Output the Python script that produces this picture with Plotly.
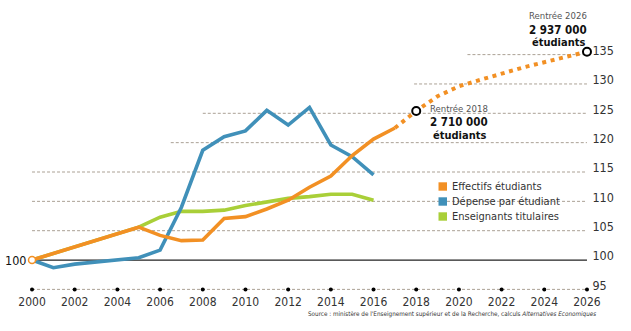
import plotly.graph_objects as go

# ---------------- data ----------------
years_hist = list(range(2000, 2018))
effectifs = [100, 101.1, 102.2, 103.3, 104.4, 105.6, 104.2, 103.3, 103.4, 107.1,
             107.4, 108.7, 110.2, 112.4, 114.3, 117.8, 120.6, 122.5]
years_proj = list(range(2017, 2027))
effectifs_proj = [122.5, 125.4, 127.9, 129.6, 130.7, 131.8, 132.8, 133.7, 134.6, 135.5]
years_16 = list(range(2000, 2017))
depense = [100, 98.7, 99.3, 99.7, 100.0, 100.4, 101.7, 109.0, 118.7, 121.0,
           122.0, 125.5, 123.0, 126.0, 119.6, 117.6, 114.5]
enseignants = [100, 101.1, 102.2, 103.3, 104.4, 105.6, 107.3, 108.3, 108.3, 108.5,
               109.3, 109.9, 110.5, 110.8, 111.2, 111.2, 110.2]
series_names = ["Effectifs étudiants", "Dépense par étudiant", "Enseignants titulaires"]
x_ticks = list(range(2000, 2027, 2))
y_ticks = list(range(95, 140, 5))
callout_years = [2018, 2026]
callout_head = ["Rentrée 2018", "Rentrée 2026"]
callout_value = ["2 710 000", "2 937 000"]
source_text = ("Source : ministère de l'Enseignement supérieur et de la Recherche, "
               "calculs <i>Alternatives Economiques</i>")

# ---------------- style ----------------
ORANGE = "#F29024"
BLUE = "#4090B9"
GREEN = "#A9CF38"
GRID = "#ABA195"
NARROW = "Liberation Sans Narrow, DejaVu Sans Condensed, Arial Narrow, sans-serif"
W, H = 631, 331
ML, MR, MT, MB = 0, 12, 37, 24
XR = [1998.5, 2027.5]
YR = [92, 138]
PW, PH = W - ML - MR, H - MT - MB


def px_x(px):
    return (px - ML) / PW


def px_y(py):
    return (H - MB - py) / PH


fig = go.Figure()

fig.add_trace(go.Scatter(x=years_16, y=enseignants, mode="lines",
                         line=dict(color=GREEN, width=3.6), showlegend=False,
                         name=series_names[2]))
fig.add_trace(go.Scatter(x=years_16, y=depense, mode="lines",
                         line=dict(color=BLUE, width=3.6), showlegend=False,
                         name=series_names[1]))
fig.add_trace(go.Scatter(x=years_hist, y=effectifs, mode="lines",
                         line=dict(color=ORANGE, width=3.6), showlegend=False,
                         name=series_names[0]))
fig.add_trace(go.Scatter(x=years_proj, y=effectifs_proj, mode="lines",
                         line=dict(color=ORANGE, width=4, dash="4px,4.6px"),
                         showlegend=False))
# start point
fig.add_trace(go.Scatter(x=years_hist[:1], y=effectifs[:1], mode="markers",
                         marker=dict(size=7, color="white", line=dict(color=ORANGE, width=1.5)),
                         showlegend=False, cliponaxis=False))
# callout markers
call_y = [effectifs_proj[years_proj.index(y)] for y in callout_years]
fig.add_trace(go.Scatter(x=callout_years, y=call_y, mode="markers",
                         marker=dict(size=8, color="white", line=dict(color="black", width=2)),
                         showlegend=False, cliponaxis=False))
# axis dots
fig.add_trace(go.Scatter(x=x_ticks, y=[y_ticks[0]] * len(x_ticks), mode="markers",
                         marker=dict(size=4, color="black"), showlegend=False,
                         cliponaxis=False, hoverinfo="skip"))

shapes = []
grid_start = {105: 2000, 110: 2000, 115: 2000, 120: 2006.5, 125: 2008, 130: 2017.9, 135: 2020.4}
for lvl, x0 in grid_start.items():
    shapes.append(dict(type="line", xref="x", yref="y", x0=x0, x1=2026, y0=lvl, y1=lvl,
                       line=dict(color=GRID, width=1, dash="3px,2px"), layer="below"))
shapes.append(dict(type="line", xref="x", yref="y", x0=2000, x1=2026, y0=95, y1=95,
                   line=dict(color=GRID, width=1, dash="3px,2px"), layer="below"))
shapes.append(dict(type="line", xref="x", yref="y", x0=2000, x1=2026, y0=100, y1=100,
                   line=dict(color="#222", width=1.3), layer="below"))
# legend background
shapes.append(dict(type="rect", xref="paper", yref="paper",
                   x0=px_x(430), x1=px_x(556), y0=px_y(226), y1=px_y(178),
                   fillcolor="white", line=dict(width=0), layer="below"))
leg_colors = [ORANGE, BLUE, GREEN]
leg_y = [186.5, 201.5, 216.5]
for c, yy in zip(leg_colors, leg_y):
    shapes.append(dict(type="rect", xref="paper", yref="paper",
                       x0=px_x(438.5), x1=px_x(447), y0=px_y(yy + 4.2), y1=px_y(yy - 4.2),
                       fillcolor=c, line=dict(width=0)))

annotations = []
for name, yy in zip(series_names, leg_y):
    annotations.append(dict(xref="paper", yref="paper", x=px_x(450), y=px_y(yy),
                            text=name, showarrow=False, xanchor="left", yanchor="middle",
                            font=dict(family=NARROW, size=11, color="#333")))
annotations.append(dict(xref="x", yref="y", x=2000, y=100, text="100", showarrow=False,
                        xanchor="right", yanchor="middle", xshift=-4,
                        font=dict(family=NARROW, size=12.5, color="#111")))
call_pos = [(459, 108.3, 121.7, 135.0), (558, 15.7, 30.0, 42.7)]
for head, val, (cx, y1, y2, y3) in zip(callout_head, callout_value, call_pos):
    annotations.append(dict(xref="paper", yref="paper", x=px_x(cx), y=px_y(y1), text=head,
                            showarrow=False, xanchor="center", yanchor="middle",
                            font=dict(family=NARROW, size=9.5, color="#555")))
    annotations.append(dict(xref="paper", yref="paper", x=px_x(cx), y=px_y(y2),
                            text="<b>" + val + "</b>", showarrow=False, xanchor="center",
                            yanchor="middle", font=dict(family=NARROW, size=11.5, color="#111")))
    annotations.append(dict(xref="paper", yref="paper", x=px_x(cx), y=px_y(y3),
                            text="<b>étudiants</b>", showarrow=False, xanchor="center",
                            yanchor="middle", font=dict(family=NARROW, size=11, color="#111")))
annotations.append(dict(xref="paper", yref="paper", x=px_x(598), y=px_y(314.3),
                        text=source_text, showarrow=False, xanchor="right", yanchor="middle",
                        font=dict(family=NARROW, size=6.3, color="#333")))

fig.update_layout(
    width=W, height=H,
    margin=dict(l=ML, r=MR, t=MT, b=MB, pad=0),
    paper_bgcolor="white", plot_bgcolor="white",
    showlegend=False,
    shapes=shapes, annotations=annotations,
    xaxis=dict(range=XR, anchor="free", position=(95 - YR[0]) / (YR[1] - YR[0]),
               tickvals=x_ticks, ticks="outside", ticklen=1, tickcolor="rgba(0,0,0,0)",
               showline=False, showgrid=False, zeroline=False, fixedrange=True,
               tickfont=dict(family=NARROW, size=12, color="#333")),
    yaxis=dict(range=YR, side="right", anchor="free",
               position=(2026 - XR[0]) / (XR[1] - XR[0]),
               tickvals=y_ticks, ticks="outside", ticklen=2, tickcolor="rgba(0,0,0,0)",
               ticklabelshift=-4,
               showline=False, showgrid=False, zeroline=False, fixedrange=True,
               tickfont=dict(family=NARROW, size=12.5, color="#333")),
)

fig.write_html("out.html", config={"displayModeBar": False})
